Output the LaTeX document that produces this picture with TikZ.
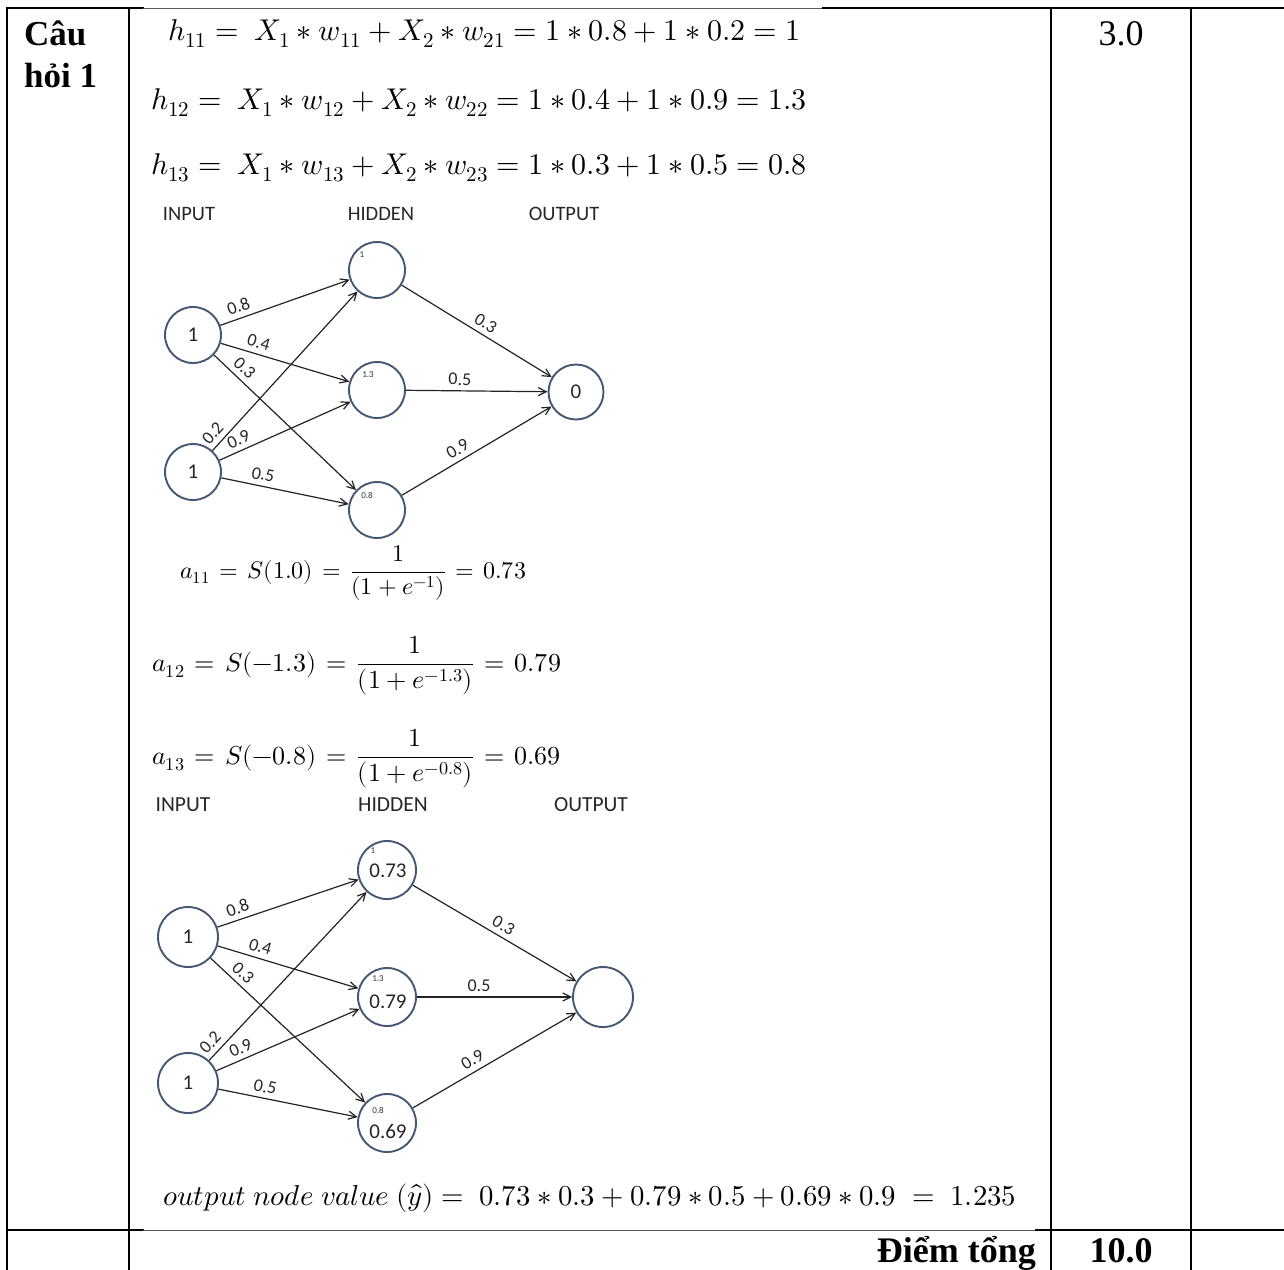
\documentclass[tikz,border=0pt]{standalone}
\usepackage{fontspec}
\usepackage{unicode-math}
\setmainfont{Liberation Serif}
\setmathfont{Latin Modern Math}
\newfontfamily\netfont{Carlito}
\usetikzlibrary{arrows.meta}

\definecolor{ring}{RGB}{68,88,114}
\definecolor{wirecol}{RGB}{35,35,35}

\newcommand{\eqs}{\mkern2mu=\mkern2mu}

\tikzset{
  tablerule/.style={line width=2pt, black, line cap=rect},
  faintrule/.style={line width=0.9pt, black!65},
  neuron/.style={circle, draw=ring, line width=1.9pt, inner sep=0pt,
    font=\netfont\fontsize{21}{24}\selectfont, text=black!85},
  wire/.style={draw=wirecol, line width=1.2pt, -{Straight Barb[length=8pt,width=8pt]}},
  wlbl/.style={font=\netfont\fontsize{18}{20}\selectfont, text=black!85, inner sep=1pt, sloped, above=4pt},
  valtxt/.style={font=\netfont\fontsize{21}{24}\selectfont, text=black!85, inner sep=0pt},
  smallval/.style={font=\netfont\fontsize{9}{10}\selectfont, text=black!80, inner sep=0pt},
  layerlbl/.style={font=\netfont\fontsize{20.5}{24}\selectfont, text=black!85, inner sep=0pt},
  eqn/.style={anchor=base west, inner sep=0pt},
  headtxt/.style={anchor=base west, inner sep=0pt, font=\bfseries\fontsize{35}{42}\selectfont},
}

\begin{document}
\begin{tikzpicture}[x=1pt, y=-1pt]
\useasboundingbox (0,0) rectangle (1284,1269);

% ---------- table rules ----------
\draw[tablerule] (7,8) -- (143,8);
\draw[faintrule] (143,8) -- (823,8);
\draw[tablerule] (823,8) -- (1284,8);
\draw[tablerule] (7,1230) -- (143,1230);
\draw[faintrule] (143,1230) -- (1036,1230);
\draw[tablerule] (1036,1230) -- (1284,1230);
\draw[tablerule] (7,8) -- (7,1269);
\draw[tablerule] (129,8) -- (129,1269);
\draw[tablerule] (1051,8) -- (1051,1269);
\draw[tablerule] (1191,8) -- (1191,1269);

% ---------- table text ----------
\node[headtxt] (q1) at (24,45) {Câu};
\node[headtxt] (q2) at (24,87) {hỏi 1};
\node[anchor=base, inner sep=0pt, font=\fontsize{36}{42}\selectfont] (pts) at (1121,45) {3.0};
\node[anchor=base east, inner sep=0pt, font=\bfseries\fontsize{36}{42}\selectfont] (totlbl) at (1036,1262) {Điểm tổng};
\node[anchor=base, inner sep=0pt, font=\bfseries\fontsize{36}{42}\selectfont] (tot) at (1121,1262) {10.0};

% ---------- hidden-layer sums ----------
\node[eqn, font=\fontsize{30}{36}\selectfont] (e1) at (168,40)
  {$h_{11} =\ X_1 * w_{11} + X_2 * w_{21} = 1 * 0.8 + 1 * 0.2 = 1$};
\node[eqn, font=\fontsize{30}{36}\selectfont] (e2) at (151,109)
  {$h_{12} =\ X_1 * w_{12} + X_2 * w_{22} = 1 * 0.4 + 1 * 0.9 = 1.3$};
\node[eqn, font=\fontsize{30}{36}\selectfont] (e3) at (151,174)
  {$h_{13} =\ X_1 * w_{13} + X_2 * w_{23} = 1 * 0.3 + 1 * 0.5 = 0.8$};

% ---------- first network ----------
\node[layerlbl] (inA)  at (189,214) {INPUT};
\node[layerlbl] (hidA) at (381,214) {HIDDEN};
\node[layerlbl] (outA) at (564,214) {OUTPUT};

\node[neuron, minimum size=56pt] (a1) at (193,335) {1};
\node[neuron, minimum size=56pt] (a2) at (193,472) {1};
\node[neuron, minimum size=56pt] (b1) at (377,270) {};
\node[neuron, minimum size=56pt] (b2) at (377,390) {};
\node[neuron, minimum size=56pt] (b3) at (377,510) {};
\node[neuron, minimum size=55pt] (c1) at (576,392) {0};

\node[smallval] (b1v) at (362,255) {1};
\node[smallval] (b2v) at (368,375) {1.3};
\node[smallval] (b3v) at (367,495) {0.8};

\draw[wire] (a1) -- node[wlbl, pos=0.17] (la11) {0.8} (b1);
\draw[wire] (a1) -- node[wlbl, pos=0.27] (la12) {0.4} (b2);
\draw[wire] (a1) -- node[wlbl, pos=0.16] (la13) {0.3} (b3);
\draw[wire] (a2) -- node[wlbl, pos=0.06] (la21) {0.2} (b1);
\draw[wire] (a2) -- node[wlbl, pos=0.18] (la22) {0.9} (b2);
\draw[wire] (a2) -- node[wlbl, pos=0.31] (la23) {0.5} (b3);
\draw[wire] (b1) -- node[wlbl, pos=0.52] (lb1) {0.3} (c1);
\draw[wire] (b2) -- node[wlbl, pos=0.38] (lb2) {0.5} (c1);
\draw[wire] (b3) -- node[wlbl, pos=0.41] (lb3) {0.9} (c1);

% ---------- activations ----------
\node[eqn, font=\fontsize{24}{30}\selectfont] (s1) at (180,578)
  {$a_{11} \eqs S(1.0) \eqs \dfrac{1}{(1+e^{-1})} \eqs 0.73$};
\node[eqn, font=\fontsize{26}{32}\selectfont] (s2) at (152,671)
  {$a_{12} \eqs S(-1.3) \eqs \dfrac{1}{(1+e^{-1.3})} \eqs 0.79$};
\node[eqn, font=\fontsize{26}{32}\selectfont] (s3) at (152,764)
  {$a_{13} \eqs S(-0.8) \eqs \dfrac{1}{(1+e^{-0.8})} \eqs 0.69$};

% ---------- second network ----------
\node[layerlbl, font=\netfont\fontsize{21.5}{26}\selectfont] (inB)  at (183,805) {INPUT};
\node[layerlbl, font=\netfont\fontsize{21.5}{26}\selectfont] (hidB) at (393,805) {HIDDEN};
\node[layerlbl, font=\netfont\fontsize{21.5}{26}\selectfont] (outB) at (591,805) {OUTPUT};

\node[neuron, minimum size=60pt] (p1) at (188,937) {1};
\node[neuron, minimum size=60pt] (p2) at (188,1083) {1};
\node[neuron, minimum size=58pt] (q1n) at (387,870) {};
\node[neuron, minimum size=58pt] (q2n) at (387,997) {};
\node[neuron, minimum size=58pt] (q3n) at (387,1123) {};
\node[neuron, minimum size=60pt] (r1) at (603,997) {};

\node[smallval] (q1s) at (373,851) {1};
\node[smallval] (q2s) at (378,979) {1.3};
\node[smallval] (q3s) at (378,1110) {0.8};
\node[valtxt] (q1a) at (388,871) {0.73};
\node[valtxt] (q2a) at (388,1002) {0.79};
\node[valtxt] (q3a) at (388,1131) {0.69};

\draw[wire] (p1) -- node[wlbl, pos=0.17] (lp11) {0.8} (q1n);
\draw[wire] (p1) -- node[wlbl, pos=0.28] (lp12) {0.4} (q2n);
\draw[wire] (p1) -- node[wlbl, pos=0.16] (lp13) {0.3} (q3n);
\draw[wire] (p2) -- node[wlbl, pos=0.06] (lp21) {0.2} (q1n);
\draw[wire] (p2) -- node[wlbl, pos=0.20] (lp22) {0.9} (q2n);
\draw[wire] (p2) -- node[wlbl, pos=0.32] (lp23) {0.5} (q3n);
\draw[wire] (q1n) -- node[wlbl, pos=0.52] (lq1) {0.3} (r1);
\draw[wire] (q2n) -- node[wlbl, pos=0.40] (lq2) {0.5} (r1);
\draw[wire] (q3n) -- node[wlbl, pos=0.40] (lq3) {0.9} (r1);

% ---------- network output ----------
\node[eqn, font=\fontsize{28.8}{34}\selectfont] (yhat) at (163,1205)
  {$output\ node\ value\ (\hat{y}) =\ 0.73 * 0.3 + 0.79 * 0.5 + 0.69 * 0.9 \;=\; 1.235$};
\end{tikzpicture}
\end{document}
